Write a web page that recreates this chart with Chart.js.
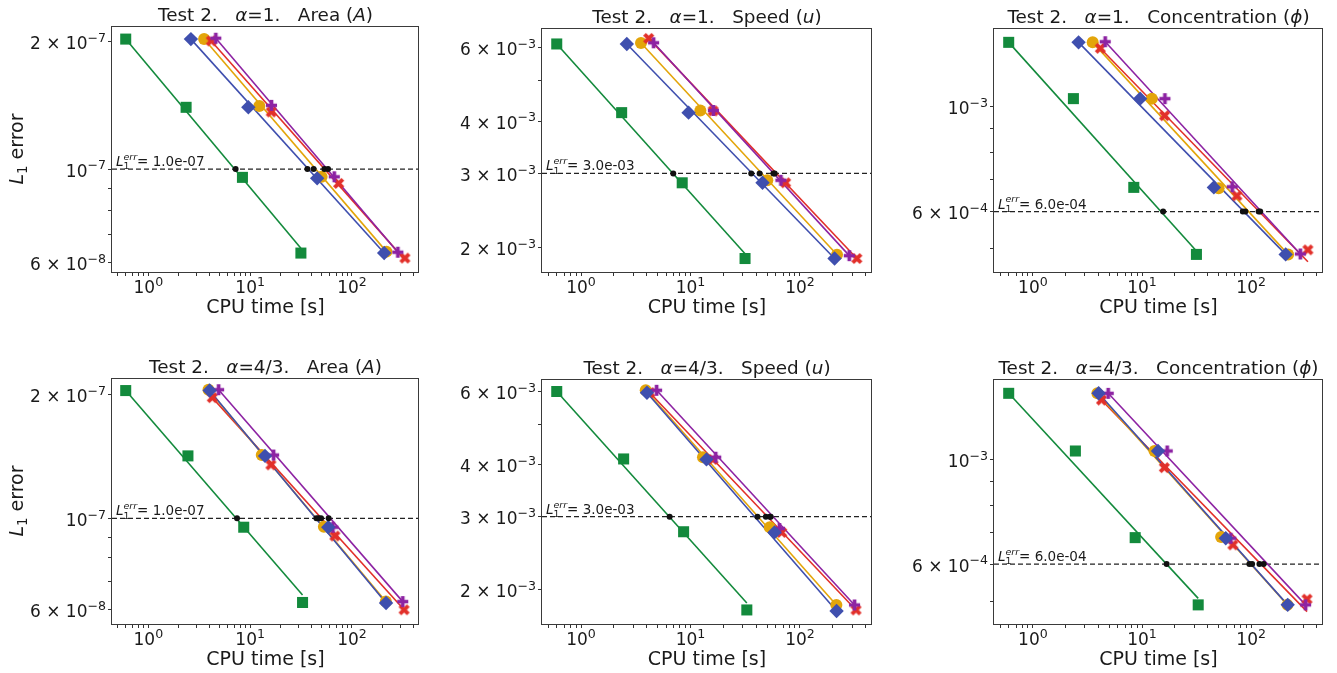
<!DOCTYPE html>
<html>
<head>
<meta charset="utf-8">
<script src="https://cdn.jsdelivr.net/npm/chart.js@4.4.0/dist/chart.umd.min.js"></script>
<style>
  html, body { margin: 0; padding: 0; background: #fff; overflow: hidden; }
  #fig { position: relative; width: 1337px; height: 673px; }
  #fig canvas { position: absolute; }
</style>
</head>
<body>
<div id="fig"></div>
<script>
// series order: green squares, blue diamonds, orange circles, red X, purple P
const timeAlpha1 = [
  [0.6, 2.35, 8.4, 31.5],
  [2.62, 9.6, 45.5, 207],
  [3.53, 12.3, 50.3, 218],
  [4.15, 16.1, 74, 331],
  [4.6, 16.2, 67, 282]
];
const timeAlpha43 = [
  [0.6, 2.45, 8.65, 32.7],
  [4.0, 14.0, 58.5, 216],
  [3.9, 13.0, 53, 215],
  [4.25, 16, 68, 325],
  [4.9, 17, 65, 315]
];

const errA1 = [
  [2.03e-7, 1.40e-7, 9.56e-8, 6.33e-8],
  [2.03e-7, 1.40e-7, 9.51e-8, 6.33e-8],
  [2.03e-7, 1.41e-7, 9.59e-8, 6.38e-8],
  [2.01e-7, 1.365e-7, 9.25e-8, 6.16e-8],
  [2.04e-7, 1.415e-7, 9.59e-8, 6.36e-8]
];
const errU1 = [
  [6.11e-3, 4.19e-3, 2.85e-3, 1.88e-3],
  [6.11e-3, 4.19e-3, 2.85e-3, 1.88e-3],
  [6.14e-3, 4.24e-3, 2.89e-3, 1.92e-3],
  [6.3e-3, 4.23e-3, 2.85e-3, 1.88e-3],
  [6.15e-3, 4.24e-3, 2.89e-3, 1.91e-3]
];
const errPhi1 = [
  [1.368e-3, 1.04e-3, 6.75e-4, 4.87e-4],
  [1.368e-3, 1.04e-3, 6.75e-4, 4.87e-4],
  [1.368e-3, 1.04e-3, 6.72e-4, 4.87e-4],
  [1.329e-3, 9.57e-4, 6.48e-4, 4.98e-4],
  [1.372e-3, 1.04e-3, 6.77e-4, 4.88e-4]
];
const errA43 = [
  [2.05e-7, 1.42e-7, 9.51e-8, 6.23e-8],
  [2.05e-7, 1.42e-7, 9.51e-8, 6.21e-8],
  [2.06e-7, 1.427e-7, 9.54e-8, 6.26e-8],
  [1.97e-7, 1.35e-7, 9.05e-8, 5.98e-8],
  [2.06e-7, 1.427e-7, 9.51e-8, 6.26e-8]
];
const errU43 = [
  [6.0e-3, 4.13e-3, 2.76e-3, 1.79e-3],
  [5.96e-3, 4.12e-3, 2.75e-3, 1.78e-3],
  [6.04e-3, 4.17e-3, 2.83e-3, 1.84e-3],
  [5.96e-3, 4.12e-3, 2.75e-3, 1.79e-3],
  [6.04e-3, 4.17e-3, 2.81e-3, 1.84e-3]
];
const errPhi43 = [
  [1.387e-3, 1.045e-3, 6.83e-4, 4.91e-4],
  [1.387e-3, 1.045e-3, 6.81e-4, 4.91e-4],
  [1.387e-3, 1.045e-3, 6.85e-4, 4.91e-4],
  [1.342e-3, 9.63e-4, 6.59e-4, 5.05e-4],
  [1.387e-3, 1.045e-3, 6.81e-4, 4.91e-4]
];

// fitted lines: error at first and at last CPU time of each series
const fitA1 = [[2.03e-7, 6.5e-8], [2.03e-7, 6.33e-8], [2.03e-7, 6.38e-8], [2.01e-7, 6.1e-8], [2.04e-7, 6.36e-8]];
const fitU1 = [[6.11e-3, 1.93e-3], [6.11e-3, 1.88e-3], [6.14e-3, 1.92e-3], [6.3e-3, 1.88e-3], [6.15e-3, 1.91e-3]];
const fitPhi1 = [[1.368e-3, 4.95e-4], [1.368e-3, 4.87e-4], [1.368e-3, 4.87e-4], [1.329e-3, 4.7e-4], [1.372e-3, 4.88e-4]];
const fitA43 = [[2.05e-7, 6.5e-8], [2.05e-7, 6.21e-8], [2.06e-7, 6.26e-8], [1.97e-7, 5.98e-8], [2.06e-7, 6.26e-8]];
const fitU43 = [[6.0e-3, 1.86e-3], [5.96e-3, 1.78e-3], [6.04e-3, 1.84e-3], [5.96e-3, 1.79e-3], [6.04e-3, 1.84e-3]];
const fitPhi43 = [[1.387e-3, 5.07e-4], [1.387e-3, 4.91e-4], [1.387e-3, 4.91e-4], [1.342e-3, 4.75e-4], [1.387e-3, 4.91e-4]];

// CPU time where each fit reaches the error threshold
const crossA1 = [7.2, 36.5, 42, 53.6, 58.2];
const crossU1 = [6.96, 35.9, 42.8, 57.2, 58.8];
const crossPhi1 = [15.6, 83.7, 88.5, 117, 121];
const crossA43 = [7.43, 44.7, 47.1, 49.7, 59];
const crossU43 = [6.45, 40.9, 48.8, 53.1, 54];
const crossPhi43 = [16.8, 96.3, 102, 119, 130];

const thresholds = [1e-7, 3e-3, 6e-4];
const thresholdLabels = ['1.0e-07', '3.0e-03', '6.0e-04'];

const xMajor = [1, 10, 100];
const xMinor = [0.5, 0.6, 0.7, 0.8, 0.9, 2, 3, 4, 5, 6, 7, 8, 9, 20, 30, 40, 50, 60, 70, 80, 90, 200, 300, 400];
const yMajorA = [6e-8, 1e-7, 2e-7];
const yMinorA = [7e-8, 8e-8, 9e-8];
const yMajorU = [2e-3, 3e-3, 4e-3, 6e-3];
const yMinorU = [5e-3];
const yMajorPhi = [6e-4, 1e-3];
const yMinorPhi = [5e-4, 7e-4, 8e-4, 9e-4];

// ---------- styling ----------
const FONT = '"DejaVu Sans", sans-serif';
const ML = 112, MT = 26, MR = 12, MB = 48;
const XMIN = 0.44, XMAX = 455;
const colors = ['#138a3c', '#3f4fae', '#e3a50a', '#e2302a', '#8d23a3'];
const markerOrder = [5, 1, 4, 3, 2];
const fitOrder = [10, 11, 12, 14, 13];

function polyMarker(color, pts, scale) {
  const c = document.createElement('canvas');
  c.width = 15; c.height = 15;
  const g = c.getContext('2d');
  g.fillStyle = color;
  g.beginPath();
  pts.forEach((p, i) => {
    const px = 7.5 + p[0] * scale, py = 7.5 + p[1] * scale;
    if (i) g.lineTo(px, py); else g.moveTo(px, py);
  });
  g.closePath();
  g.fill();
  return c;
}
const plusPts = [[-1,-3],[1,-3],[1,-1],[3,-1],[3,1],[1,1],[1,3],[-1,3],[-1,1],[-3,1],[-3,-1],[-1,-1]];
const xPts = [[-1,-2],[0,-1],[1,-2],[2,-1],[1,0],[2,1],[1,2],[0,1],[-1,2],[-2,1],[-1,0],[-2,-1]];
const markerStyles = [
  { pointStyle: 'rect', radius: 7.8 },
  { pointStyle: 'rectRot', radius: 7.2 },
  { pointStyle: 'circle', radius: 6 },
  { pointStyle: polyMarker(colors[3], xPts, 2.8), radius: 6 },
  { pointStyle: polyMarker(colors[4], plusPts, 1.85), radius: 6 }
];

function titleParts(alpha, name, sym) {
  return [
    { t: 'Test 2.   ' }, { t: 'α', i: true }, { t: '=' + alpha + '.   ' + name + ' (' },
    { t: sym, i: true }, { t: ')' }
  ];
}

const panels = [
  { box: [112, 26, 419, 272], time: timeAlpha1, err: errA1, fit: fitA1, cross: crossA1, k: 0,
    title: titleParts('1', 'Area', 'A'), yr: [5.71e-8, 2.18e-7], yMajor: yMajorA, yMinor: yMinorA, yTitle: true },
  { box: [542, 28, 872, 272], time: timeAlpha1, err: errU1, fit: fitU1, cross: crossU1, k: 1,
    title: titleParts('1', 'Speed', 'u'), yr: [1.746e-3, 6.67e-3], yMajor: yMajorU, yMinor: yMinorU },
  { box: [994, 28, 1323, 272], time: timeAlpha1, err: errPhi1, fit: fitPhi1, cross: crossPhi1, k: 2,
    title: titleParts('1', 'Concentration', 'ϕ'), yr: [4.47e-4, 1.467e-3], yMajor: yMajorPhi, yMinor: yMinorPhi },
  { box: [112, 378, 419, 624], time: timeAlpha43, err: errA43, fit: fitA43, cross: crossA43, k: 0,
    title: titleParts('4/3', 'Area', 'A'), yr: [5.52e-8, 2.2e-7], yMajor: yMajorA, yMinor: yMinorA, yTitle: true },
  { box: [542, 379, 872, 624], time: timeAlpha43, err: errU43, fit: fitU43, cross: crossU43, k: 1,
    title: titleParts('4/3', 'Speed', 'u'), yr: [1.656e-3, 6.43e-3], yMajor: yMajorU, yMinor: yMinorU },
  { box: [994, 379, 1323, 624], time: timeAlpha43, err: errPhi43, fit: fitPhi43, cross: crossPhi43, k: 2,
    title: titleParts('4/3', 'Concentration', 'ϕ'), yr: [4.47e-4, 1.488e-3], yMajor: yMajorPhi, yMinor: yMinorPhi }
];

// ---------- rich text (mathtext-like) ----------
function partFont(p, size, ratio) {
  const s = (p.sup || p.sub) ? size * ratio : size;
  return (p.i ? 'italic ' : '') + s + 'px ' + FONT;
}
function drawRich(ctx, parts, x, y, size, align, ratio) {
  ratio = ratio || 0.7;
  let w = 0;
  parts.forEach(p => { ctx.font = partFont(p, size, ratio); w += ctx.measureText(p.t).width; });
  let cx = align === 'center' ? x - w / 2 : align === 'right' ? x - w : x;
  ctx.textAlign = 'left';
  ctx.textBaseline = 'alphabetic';
  parts.forEach(p => {
    ctx.font = partFont(p, size, ratio);
    const dy = p.sup ? -size * 0.42 : p.sub ? size * 0.22 : 0;
    ctx.fillText(p.t, cx, y + dy);
    cx += ctx.measureText(p.t).width;
  });
}
function powParts(v) {
  const e = Math.floor(Math.log10(v) + 1e-9);
  const m = Math.round(v / Math.pow(10, e));
  const es = e < 0 ? '−' + (-e) : String(e);
  return [{ t: m === 1 ? '10' : m + ' × 10' }, { t: es, sup: true }];
}

function makeDecor(p) {
  return {
    id: 'decor',
    afterDraw(chart) {
      const ctx = chart.ctx, a = chart.chartArea;
      const xs = chart.scales.x, ys = chart.scales.y;
      const cx = (a.left + a.right) / 2;
      ctx.save();
      ctx.strokeStyle = '#3a3a3a';
      ctx.lineWidth = 1;
      ctx.strokeRect(Math.round(a.left) - 0.5, Math.round(a.top) + 0.5,
        Math.round(a.right - a.left), Math.round(a.bottom - a.top));
      ctx.fillStyle = '#1a1a1a';
      drawRich(ctx, p.title, cx, a.top - 5, 18.4, 'center');
      xMajor.forEach(v => drawRich(ctx, powParts(v), xs.getPixelForValue(v), a.bottom + 21, 17, 'center', 0.74));
      p.yMajor.forEach(v => drawRich(ctx, powParts(v), a.left - 6, ys.getPixelForValue(v) + 7.5, 17, 'right', 0.74));
      drawRich(ctx, [{ t: 'CPU time [s]' }], cx, a.bottom + 41, 19, 'center');
      if (p.yTitle) {
        ctx.save();
        ctx.translate(a.left - 89, (a.top + a.bottom) / 2);
        ctx.rotate(-Math.PI / 2);
        drawRich(ctx, [{ t: 'L', i: true }, { t: '1', sub: true }, { t: ' error' }], 0, 0, 19, 'center');
        ctx.restore();
      }
      // threshold label  L_1^err = ...
      const ty = ys.getPixelForValue(thresholds[p.k]) - 3;
      let tx = a.left + 4;
      const fs = 13.5;
      ctx.font = 'italic ' + fs + 'px ' + FONT;
      ctx.fillText('L', tx, ty);
      tx += ctx.measureText('L').width;
      ctx.font = (fs * 0.7) + 'px ' + FONT;
      ctx.fillText('1', tx, ty + fs * 0.25);
      ctx.font = 'italic ' + (fs * 0.7) + 'px ' + FONT;
      ctx.fillText('err', tx, ty - fs * 0.45);
      tx += ctx.measureText('err').width;
      ctx.font = fs + 'px ' + FONT;
      ctx.fillText('= ' + thresholdLabels[p.k], tx, ty);
      ctx.restore();
    }
  };
}

const fig = document.getElementById('fig');
panels.forEach(p => {
  const [l, t, r, b] = p.box;
  const W = r - l + ML + MR, H = b - t + MT + MB;
  const cv = document.createElement('canvas');
  cv.width = W; cv.height = H;
  cv.style.left = (l - ML) + 'px';
  cv.style.top = (t - MT) + 'px';
  cv.style.width = W + 'px';
  cv.style.height = H + 'px';
  fig.appendChild(cv);

  const datasets = [];
  const thr = thresholds[p.k];
  datasets.push({
    data: p.cross.map(x => ({ x, y: thr })),
    pointRadius: 3, pointBackgroundColor: '#111', pointBorderWidth: 0, showLine: false, order: 0
  });
  p.time.forEach((ts, s) => {
    const ms = markerStyles[s];
    datasets.push({
      data: ts.map((x, j) => ({ x, y: p.err[s][j] })),
      showLine: false, pointStyle: ms.pointStyle, pointRadius: ms.radius,
      pointBackgroundColor: colors[s], pointBorderWidth: 0, order: markerOrder[s], clip: false
    });
    datasets.push({
      data: [{ x: ts[0], y: p.fit[s][0] }, { x: ts[ts.length - 1], y: p.fit[s][1] }],
      showLine: true, borderColor: colors[s], borderWidth: 1.6, pointRadius: 0, order: fitOrder[s]
    });
  });
  datasets.push({
    data: [{ x: XMIN, y: thr }, { x: XMAX, y: thr }],
    showLine: true, borderColor: '#222', borderWidth: 1.2, borderDash: [5, 3], pointRadius: 0, order: 20
  });

  const tickGrid = { display: true, drawOnChartArea: false, drawTicks: true, tickLength: 4, color: '#333', lineWidth: 1 };
  new Chart(cv.getContext('2d'), {
    type: 'scatter',
    data: { datasets },
    options: {
      responsive: false,
      animation: false,
      events: [],
      layout: { padding: { left: 0, top: MT, right: MR, bottom: 0 } },
      plugins: { legend: { display: false }, tooltip: { enabled: false }, title: { display: false } },
      scales: {
        x: {
          type: 'logarithmic', min: XMIN, max: XMAX,
          grid: tickGrid, border: { display: false },
          ticks: { display: false },
          afterBuildTicks: s => { s.ticks = xMajor.concat(xMinor).map(v => ({ value: v })); },
          afterFit: s => { s.height = MB; }
        },
        y: {
          type: 'logarithmic', min: p.yr[0], max: p.yr[1],
          grid: tickGrid, border: { display: false },
          ticks: { display: false },
          afterBuildTicks: s => { s.ticks = p.yMajor.concat(p.yMinor).map(v => ({ value: v })); },
          afterFit: s => { s.width = ML; }
        }
      }
    },
    plugins: [makeDecor(p)]
  });
});
</script>
</body>
</html>
